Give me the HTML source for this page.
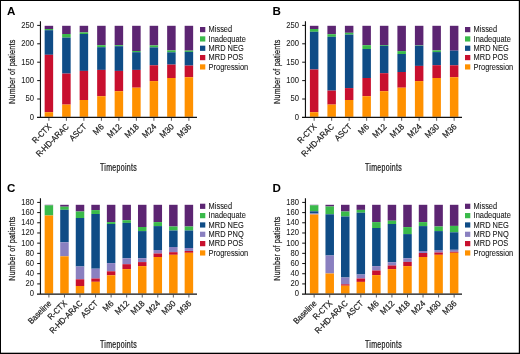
<!DOCTYPE html>
<html><head><meta charset="utf-8"><style>
html,body{margin:0;padding:0;background:#fff;}
body{width:520px;height:354px;overflow:hidden;}
svg{display:block;font-family:"Liberation Sans", sans-serif;will-change:transform;}
</style></head><body>
<svg width="520" height="354" viewBox="0 0 520 354">
<rect x="0" y="0" width="520" height="354" fill="#fff"/>
<rect x="44.65" y="25.8" width="8.5" height="3.2" fill="#5C2572"/>
<rect x="44.65" y="29" width="8.5" height="1.2" fill="#3ABA4A"/>
<rect x="44.65" y="30.2" width="8.5" height="24.6" fill="#0F4C86"/>
<rect x="44.65" y="54.8" width="8.5" height="57.4" fill="#C8102E"/>
<rect x="44.65" y="112.2" width="8.5" height="4.6" fill="#FF9100"/>
<rect x="62.15" y="25.8" width="8.5" height="8.2" fill="#5C2572"/>
<rect x="62.15" y="34" width="8.5" height="3.6" fill="#3ABA4A"/>
<rect x="62.15" y="37.6" width="8.5" height="36" fill="#0F4C86"/>
<rect x="62.15" y="73.6" width="8.5" height="31" fill="#C8102E"/>
<rect x="62.15" y="104.6" width="8.5" height="12.2" fill="#FF9100"/>
<rect x="79.65" y="25.8" width="8.5" height="6.6" fill="#5C2572"/>
<rect x="79.65" y="32.4" width="8.5" height="1.6" fill="#3ABA4A"/>
<rect x="79.65" y="34" width="8.5" height="36.9" fill="#0F4C86"/>
<rect x="79.65" y="70.9" width="8.5" height="29.1" fill="#C8102E"/>
<rect x="79.65" y="100" width="8.5" height="16.8" fill="#FF9100"/>
<rect x="97.15" y="25.8" width="8.5" height="19.4" fill="#5C2572"/>
<rect x="97.15" y="45.2" width="8.5" height="2" fill="#3ABA4A"/>
<rect x="97.15" y="47.2" width="8.5" height="22.7" fill="#0F4C86"/>
<rect x="97.15" y="69.9" width="8.5" height="26.3" fill="#C8102E"/>
<rect x="97.15" y="96.2" width="8.5" height="20.6" fill="#FF9100"/>
<rect x="114.65" y="25.8" width="8.5" height="19.4" fill="#5C2572"/>
<rect x="114.65" y="45.2" width="8.5" height="1" fill="#3ABA4A"/>
<rect x="114.65" y="46.2" width="8.5" height="24.7" fill="#0F4C86"/>
<rect x="114.65" y="70.9" width="8.5" height="20.3" fill="#C8102E"/>
<rect x="114.65" y="91.2" width="8.5" height="25.6" fill="#FF9100"/>
<rect x="132.15" y="25.8" width="8.5" height="25.2" fill="#5C2572"/>
<rect x="132.15" y="51" width="8.5" height="1.2" fill="#3ABA4A"/>
<rect x="132.15" y="52.2" width="8.5" height="17.7" fill="#0F4C86"/>
<rect x="132.15" y="69.9" width="8.5" height="17.8" fill="#C8102E"/>
<rect x="132.15" y="87.7" width="8.5" height="29.1" fill="#FF9100"/>
<rect x="149.65" y="25.8" width="8.5" height="19.6" fill="#5C2572"/>
<rect x="149.65" y="45.4" width="8.5" height="2" fill="#3ABA4A"/>
<rect x="149.65" y="47.4" width="8.5" height="17.9" fill="#0F4C86"/>
<rect x="149.65" y="65.3" width="8.5" height="15.8" fill="#C8102E"/>
<rect x="149.65" y="81.1" width="8.5" height="35.7" fill="#FF9100"/>
<rect x="167.15" y="25.8" width="8.5" height="24.6" fill="#5C2572"/>
<rect x="167.15" y="50.4" width="8.5" height="1.9" fill="#3ABA4A"/>
<rect x="167.15" y="52.3" width="8.5" height="12.3" fill="#0F4C86"/>
<rect x="167.15" y="64.6" width="8.5" height="13.4" fill="#C8102E"/>
<rect x="167.15" y="78" width="8.5" height="38.8" fill="#FF9100"/>
<rect x="184.65" y="25.8" width="8.5" height="24.8" fill="#5C2572"/>
<rect x="184.65" y="50.6" width="8.5" height="1.3" fill="#3ABA4A"/>
<rect x="184.65" y="51.9" width="8.5" height="13.7" fill="#0F4C86"/>
<rect x="184.65" y="65.6" width="8.5" height="11.6" fill="#C8102E"/>
<rect x="184.65" y="77.2" width="8.5" height="39.6" fill="#FF9100"/>
<path d="M40.45 21.25V118M37 117.4H197" stroke="#111" stroke-width="1.15" fill="none"/>
<text transform="translate(34 119.75) scale(0.85 1)" font-size="9" text-anchor="end" fill="#1a1a1a" stroke="#1a1a1a" stroke-width="0.06">0</text>
<path d="M37.2 99H40.45" stroke="#111" stroke-width="1"/>
<text transform="translate(34 101.35) scale(0.85 1)" font-size="9" text-anchor="end" fill="#1a1a1a" stroke="#1a1a1a" stroke-width="0.06">50</text>
<path d="M37.2 80.6H40.45" stroke="#111" stroke-width="1"/>
<text transform="translate(34 82.95) scale(0.85 1)" font-size="9" text-anchor="end" fill="#1a1a1a" stroke="#1a1a1a" stroke-width="0.06">100</text>
<path d="M37.2 62.2H40.45" stroke="#111" stroke-width="1"/>
<text transform="translate(34 64.55) scale(0.85 1)" font-size="9" text-anchor="end" fill="#1a1a1a" stroke="#1a1a1a" stroke-width="0.06">150</text>
<path d="M37.2 43.8H40.45" stroke="#111" stroke-width="1"/>
<text transform="translate(34 46.15) scale(0.85 1)" font-size="9" text-anchor="end" fill="#1a1a1a" stroke="#1a1a1a" stroke-width="0.06">200</text>
<path d="M37.2 25.4H40.45" stroke="#111" stroke-width="1"/>
<text transform="translate(34 27.75) scale(0.85 1)" font-size="9" text-anchor="end" fill="#1a1a1a" stroke="#1a1a1a" stroke-width="0.06">250</text>
<path d="M48.9 118V120.8" stroke="#333" stroke-width="0.8"/>
<text transform="translate(51.9 127.3) rotate(-45) scale(0.88 1)" font-size="8.6" text-anchor="end" fill="#1a1a1a" stroke="#1a1a1a" stroke-width="0.2">R-CTX</text>
<path d="M66.4 118V120.8" stroke="#333" stroke-width="0.8"/>
<text transform="translate(69.4 127.3) rotate(-45) scale(0.88 1)" font-size="8.6" text-anchor="end" fill="#1a1a1a" stroke="#1a1a1a" stroke-width="0.2">R-HD-ARAC</text>
<path d="M83.9 118V120.8" stroke="#333" stroke-width="0.8"/>
<text transform="translate(86.9 127.3) rotate(-45) scale(0.88 1)" font-size="8.6" text-anchor="end" fill="#1a1a1a" stroke="#1a1a1a" stroke-width="0.2">ASCT</text>
<path d="M101.4 118V120.8" stroke="#333" stroke-width="0.8"/>
<text transform="translate(104.4 127.3) rotate(-45) scale(0.9592 1)" font-size="8.6" text-anchor="end" fill="#1a1a1a" stroke="#1a1a1a" stroke-width="0.2">M6</text>
<path d="M118.9 118V120.8" stroke="#333" stroke-width="0.8"/>
<text transform="translate(121.9 127.3) rotate(-45) scale(0.9592 1)" font-size="8.6" text-anchor="end" fill="#1a1a1a" stroke="#1a1a1a" stroke-width="0.2">M12</text>
<path d="M136.4 118V120.8" stroke="#333" stroke-width="0.8"/>
<text transform="translate(139.4 127.3) rotate(-45) scale(0.9592 1)" font-size="8.6" text-anchor="end" fill="#1a1a1a" stroke="#1a1a1a" stroke-width="0.2">M18</text>
<path d="M153.9 118V120.8" stroke="#333" stroke-width="0.8"/>
<text transform="translate(156.9 127.3) rotate(-45) scale(0.9592 1)" font-size="8.6" text-anchor="end" fill="#1a1a1a" stroke="#1a1a1a" stroke-width="0.2">M24</text>
<path d="M171.4 118V120.8" stroke="#333" stroke-width="0.8"/>
<text transform="translate(174.4 127.3) rotate(-45) scale(0.9592 1)" font-size="8.6" text-anchor="end" fill="#1a1a1a" stroke="#1a1a1a" stroke-width="0.2">M30</text>
<path d="M188.9 118V120.8" stroke="#333" stroke-width="0.8"/>
<text transform="translate(191.9 127.3) rotate(-45) scale(0.9592 1)" font-size="8.6" text-anchor="end" fill="#1a1a1a" stroke="#1a1a1a" stroke-width="0.2">M36</text>
<text transform="translate(14.7 71.7) rotate(-90) scale(0.745 1)" font-size="9.6" text-anchor="middle" fill="#1a1a1a" stroke="#1a1a1a" stroke-width="0.25" letter-spacing="0.3">Number of patients</text>
<text transform="translate(118.5 170.8) scale(0.7 1)" font-size="10.0" text-anchor="middle" fill="#1a1a1a" stroke="#1a1a1a" stroke-width="0.25" letter-spacing="0.45">Timepoints</text>
<text x="6.9" y="15" font-size="11.6" font-weight="bold" fill="#000">A</text>
<rect x="200" y="27" width="5.3" height="5.2" fill="#5C2572"/>
<text transform="translate(208.6 32.2) scale(0.885 1)" font-size="8.4" fill="#1a1a1a" stroke="#1a1a1a" stroke-width="0.1">Missed</text>
<rect x="200" y="36.33" width="5.3" height="5.2" fill="#3ABA4A"/>
<text transform="translate(208.6 41.53) scale(0.885 1)" font-size="8.4" fill="#1a1a1a" stroke="#1a1a1a" stroke-width="0.1">Inadequate</text>
<rect x="200" y="45.66" width="5.3" height="5.2" fill="#0F4C86"/>
<text transform="translate(208.6 50.86) scale(0.885 1)" font-size="8.4" fill="#1a1a1a" stroke="#1a1a1a" stroke-width="0.1">MRD NEG</text>
<rect x="200" y="54.99" width="5.3" height="5.2" fill="#C8102E"/>
<text transform="translate(208.6 60.19) scale(0.885 1)" font-size="8.4" fill="#1a1a1a" stroke="#1a1a1a" stroke-width="0.1">MRD POS</text>
<rect x="200" y="64.32" width="5.3" height="5.2" fill="#FF9100"/>
<text transform="translate(208.6 69.52) scale(0.885 1)" font-size="8.4" fill="#1a1a1a" stroke="#1a1a1a" stroke-width="0.1">Progression</text>
<rect x="309.9" y="25.8" width="8.5" height="3.2" fill="#5C2572"/>
<rect x="309.9" y="29" width="8.5" height="2.8" fill="#3ABA4A"/>
<rect x="309.9" y="31.8" width="8.5" height="37.7" fill="#0F4C86"/>
<rect x="309.9" y="69.5" width="8.5" height="42.7" fill="#C8102E"/>
<rect x="309.9" y="112.2" width="8.5" height="4.6" fill="#FF9100"/>
<rect x="327.4" y="25.8" width="8.5" height="8.4" fill="#5C2572"/>
<rect x="327.4" y="34.2" width="8.5" height="2.6" fill="#3ABA4A"/>
<rect x="327.4" y="36.8" width="8.5" height="53.8" fill="#0F4C86"/>
<rect x="327.4" y="90.6" width="8.5" height="14" fill="#C8102E"/>
<rect x="327.4" y="104.6" width="8.5" height="12.2" fill="#FF9100"/>
<rect x="344.9" y="25.8" width="8.5" height="7" fill="#5C2572"/>
<rect x="344.9" y="32.8" width="8.5" height="1.8" fill="#3ABA4A"/>
<rect x="344.9" y="34.6" width="8.5" height="53.5" fill="#0F4C86"/>
<rect x="344.9" y="88.1" width="8.5" height="11.9" fill="#C8102E"/>
<rect x="344.9" y="100" width="8.5" height="16.8" fill="#FF9100"/>
<rect x="362.4" y="25.8" width="8.5" height="19.4" fill="#5C2572"/>
<rect x="362.4" y="45.2" width="8.5" height="3.8" fill="#3ABA4A"/>
<rect x="362.4" y="49" width="8.5" height="29" fill="#0F4C86"/>
<rect x="362.4" y="78" width="8.5" height="18.2" fill="#C8102E"/>
<rect x="362.4" y="96.2" width="8.5" height="20.6" fill="#FF9100"/>
<rect x="379.9" y="25.8" width="8.5" height="19.2" fill="#5C2572"/>
<rect x="379.9" y="45" width="8.5" height="0.8" fill="#3ABA4A"/>
<rect x="379.9" y="45.8" width="8.5" height="27.4" fill="#0F4C86"/>
<rect x="379.9" y="73.2" width="8.5" height="18" fill="#C8102E"/>
<rect x="379.9" y="91.2" width="8.5" height="25.6" fill="#FF9100"/>
<rect x="397.4" y="25.8" width="8.5" height="25.3" fill="#5C2572"/>
<rect x="397.4" y="51.1" width="8.5" height="2.9" fill="#3ABA4A"/>
<rect x="397.4" y="54" width="8.5" height="18" fill="#0F4C86"/>
<rect x="397.4" y="72" width="8.5" height="15.7" fill="#C8102E"/>
<rect x="397.4" y="87.7" width="8.5" height="29.1" fill="#FF9100"/>
<rect x="414.9" y="25.8" width="8.5" height="19.6" fill="#5C2572"/>
<rect x="414.9" y="45.4" width="8.5" height="0.4" fill="#3ABA4A"/>
<rect x="414.9" y="45.8" width="8.5" height="20.1" fill="#0F4C86"/>
<rect x="414.9" y="65.9" width="8.5" height="15.2" fill="#C8102E"/>
<rect x="414.9" y="81.1" width="8.5" height="35.7" fill="#FF9100"/>
<rect x="432.4" y="25.8" width="8.5" height="24.6" fill="#5C2572"/>
<rect x="432.4" y="50.4" width="8.5" height="1.7" fill="#3ABA4A"/>
<rect x="432.4" y="52.1" width="8.5" height="13.1" fill="#0F4C86"/>
<rect x="432.4" y="65.2" width="8.5" height="12.8" fill="#C8102E"/>
<rect x="432.4" y="78" width="8.5" height="38.8" fill="#FF9100"/>
<rect x="449.9" y="25.8" width="8.5" height="24.9" fill="#5C2572"/>
<rect x="449.9" y="50.7" width="8.5" height="14.6" fill="#0F4C86"/>
<rect x="449.9" y="65.3" width="8.5" height="11.9" fill="#C8102E"/>
<rect x="449.9" y="77.2" width="8.5" height="39.6" fill="#FF9100"/>
<path d="M305.45 21.25V118M302 117.4H462" stroke="#111" stroke-width="1.15" fill="none"/>
<text transform="translate(299 119.75) scale(0.85 1)" font-size="9" text-anchor="end" fill="#1a1a1a" stroke="#1a1a1a" stroke-width="0.06">0</text>
<path d="M302.2 99H305.45" stroke="#111" stroke-width="1"/>
<text transform="translate(299 101.35) scale(0.85 1)" font-size="9" text-anchor="end" fill="#1a1a1a" stroke="#1a1a1a" stroke-width="0.06">50</text>
<path d="M302.2 80.6H305.45" stroke="#111" stroke-width="1"/>
<text transform="translate(299 82.95) scale(0.85 1)" font-size="9" text-anchor="end" fill="#1a1a1a" stroke="#1a1a1a" stroke-width="0.06">100</text>
<path d="M302.2 62.2H305.45" stroke="#111" stroke-width="1"/>
<text transform="translate(299 64.55) scale(0.85 1)" font-size="9" text-anchor="end" fill="#1a1a1a" stroke="#1a1a1a" stroke-width="0.06">150</text>
<path d="M302.2 43.8H305.45" stroke="#111" stroke-width="1"/>
<text transform="translate(299 46.15) scale(0.85 1)" font-size="9" text-anchor="end" fill="#1a1a1a" stroke="#1a1a1a" stroke-width="0.06">200</text>
<path d="M302.2 25.4H305.45" stroke="#111" stroke-width="1"/>
<text transform="translate(299 27.75) scale(0.85 1)" font-size="9" text-anchor="end" fill="#1a1a1a" stroke="#1a1a1a" stroke-width="0.06">250</text>
<path d="M314.15 118V120.8" stroke="#333" stroke-width="0.8"/>
<text transform="translate(317.15 127.3) rotate(-45) scale(0.88 1)" font-size="8.6" text-anchor="end" fill="#1a1a1a" stroke="#1a1a1a" stroke-width="0.2">R-CTX</text>
<path d="M331.65 118V120.8" stroke="#333" stroke-width="0.8"/>
<text transform="translate(334.65 127.3) rotate(-45) scale(0.88 1)" font-size="8.6" text-anchor="end" fill="#1a1a1a" stroke="#1a1a1a" stroke-width="0.2">R-HD-ARAC</text>
<path d="M349.15 118V120.8" stroke="#333" stroke-width="0.8"/>
<text transform="translate(352.15 127.3) rotate(-45) scale(0.88 1)" font-size="8.6" text-anchor="end" fill="#1a1a1a" stroke="#1a1a1a" stroke-width="0.2">ASCT</text>
<path d="M366.65 118V120.8" stroke="#333" stroke-width="0.8"/>
<text transform="translate(369.65 127.3) rotate(-45) scale(0.9592 1)" font-size="8.6" text-anchor="end" fill="#1a1a1a" stroke="#1a1a1a" stroke-width="0.2">M6</text>
<path d="M384.15 118V120.8" stroke="#333" stroke-width="0.8"/>
<text transform="translate(387.15 127.3) rotate(-45) scale(0.9592 1)" font-size="8.6" text-anchor="end" fill="#1a1a1a" stroke="#1a1a1a" stroke-width="0.2">M12</text>
<path d="M401.65 118V120.8" stroke="#333" stroke-width="0.8"/>
<text transform="translate(404.65 127.3) rotate(-45) scale(0.9592 1)" font-size="8.6" text-anchor="end" fill="#1a1a1a" stroke="#1a1a1a" stroke-width="0.2">M18</text>
<path d="M419.15 118V120.8" stroke="#333" stroke-width="0.8"/>
<text transform="translate(422.15 127.3) rotate(-45) scale(0.9592 1)" font-size="8.6" text-anchor="end" fill="#1a1a1a" stroke="#1a1a1a" stroke-width="0.2">M24</text>
<path d="M436.65 118V120.8" stroke="#333" stroke-width="0.8"/>
<text transform="translate(439.65 127.3) rotate(-45) scale(0.9592 1)" font-size="8.6" text-anchor="end" fill="#1a1a1a" stroke="#1a1a1a" stroke-width="0.2">M30</text>
<path d="M454.15 118V120.8" stroke="#333" stroke-width="0.8"/>
<text transform="translate(457.15 127.3) rotate(-45) scale(0.9592 1)" font-size="8.6" text-anchor="end" fill="#1a1a1a" stroke="#1a1a1a" stroke-width="0.2">M36</text>
<text transform="translate(279.7 71.7) rotate(-90) scale(0.745 1)" font-size="9.6" text-anchor="middle" fill="#1a1a1a" stroke="#1a1a1a" stroke-width="0.25" letter-spacing="0.3">Number of patients</text>
<text transform="translate(383.5 170.8) scale(0.7 1)" font-size="10.0" text-anchor="middle" fill="#1a1a1a" stroke="#1a1a1a" stroke-width="0.25" letter-spacing="0.45">Timepoints</text>
<text x="272.43" y="15" font-size="11.6" font-weight="bold" fill="#000">B</text>
<rect x="465" y="27" width="5.3" height="5.2" fill="#5C2572"/>
<text transform="translate(473.6 32.2) scale(0.885 1)" font-size="8.4" fill="#1a1a1a" stroke="#1a1a1a" stroke-width="0.1">Missed</text>
<rect x="465" y="36.33" width="5.3" height="5.2" fill="#3ABA4A"/>
<text transform="translate(473.6 41.53) scale(0.885 1)" font-size="8.4" fill="#1a1a1a" stroke="#1a1a1a" stroke-width="0.1">Inadequate</text>
<rect x="465" y="45.66" width="5.3" height="5.2" fill="#0F4C86"/>
<text transform="translate(473.6 50.86) scale(0.885 1)" font-size="8.4" fill="#1a1a1a" stroke="#1a1a1a" stroke-width="0.1">MRD NEG</text>
<rect x="465" y="54.99" width="5.3" height="5.2" fill="#C8102E"/>
<text transform="translate(473.6 60.19) scale(0.885 1)" font-size="8.4" fill="#1a1a1a" stroke="#1a1a1a" stroke-width="0.1">MRD POS</text>
<rect x="465" y="64.32" width="5.3" height="5.2" fill="#FF9100"/>
<text transform="translate(473.6 69.52) scale(0.885 1)" font-size="8.4" fill="#1a1a1a" stroke="#1a1a1a" stroke-width="0.1">Progression</text>
<rect x="44.65" y="204.8" width="8.5" height="0.5" fill="#5C2572"/>
<rect x="44.65" y="205.3" width="8.5" height="10.2" fill="#3ABA4A"/>
<rect x="44.65" y="215.5" width="8.5" height="78" fill="#FF9100"/>
<rect x="60.21" y="204.8" width="8.5" height="1.9" fill="#5C2572"/>
<rect x="60.21" y="206.7" width="8.5" height="3.1" fill="#3ABA4A"/>
<rect x="60.21" y="209.8" width="8.5" height="32.5" fill="#0F4C86"/>
<rect x="60.21" y="242.3" width="8.5" height="14" fill="#8A80C0"/>
<rect x="60.21" y="256.3" width="8.5" height="37.2" fill="#FF9100"/>
<rect x="75.76" y="204.8" width="8.5" height="6.7" fill="#5C2572"/>
<rect x="75.76" y="211.5" width="8.5" height="6.5" fill="#3ABA4A"/>
<rect x="75.76" y="218" width="8.5" height="48.5" fill="#0F4C86"/>
<rect x="75.76" y="266.5" width="8.5" height="12.8" fill="#8A80C0"/>
<rect x="75.76" y="279.3" width="8.5" height="6.7" fill="#C8102E"/>
<rect x="75.76" y="286" width="8.5" height="7.5" fill="#FF9100"/>
<rect x="91.32" y="204.8" width="8.5" height="5.3" fill="#5C2572"/>
<rect x="91.32" y="210.1" width="8.5" height="3.9" fill="#3ABA4A"/>
<rect x="91.32" y="214" width="8.5" height="54.7" fill="#0F4C86"/>
<rect x="91.32" y="268.7" width="8.5" height="9.8" fill="#8A80C0"/>
<rect x="91.32" y="278.5" width="8.5" height="3.3" fill="#C8102E"/>
<rect x="91.32" y="281.8" width="8.5" height="11.7" fill="#FF9100"/>
<rect x="106.87" y="204.8" width="8.5" height="17.3" fill="#5C2572"/>
<rect x="106.87" y="222.1" width="8.5" height="1.9" fill="#3ABA4A"/>
<rect x="106.87" y="224" width="8.5" height="39.1" fill="#0F4C86"/>
<rect x="106.87" y="263.1" width="8.5" height="8.2" fill="#8A80C0"/>
<rect x="106.87" y="271.3" width="8.5" height="4" fill="#C8102E"/>
<rect x="106.87" y="275.3" width="8.5" height="18.2" fill="#FF9100"/>
<rect x="122.43" y="204.8" width="8.5" height="15.4" fill="#5C2572"/>
<rect x="122.43" y="220.2" width="8.5" height="2.7" fill="#3ABA4A"/>
<rect x="122.43" y="222.9" width="8.5" height="35.4" fill="#0F4C86"/>
<rect x="122.43" y="258.3" width="8.5" height="5.9" fill="#8A80C0"/>
<rect x="122.43" y="264.2" width="8.5" height="4.9" fill="#C8102E"/>
<rect x="122.43" y="269.1" width="8.5" height="24.4" fill="#FF9100"/>
<rect x="137.99" y="204.8" width="8.5" height="22.2" fill="#5C2572"/>
<rect x="137.99" y="227" width="8.5" height="4.1" fill="#3ABA4A"/>
<rect x="137.99" y="231.1" width="8.5" height="27.1" fill="#0F4C86"/>
<rect x="137.99" y="258.2" width="8.5" height="3.9" fill="#8A80C0"/>
<rect x="137.99" y="262.1" width="8.5" height="4" fill="#C8102E"/>
<rect x="137.99" y="266.1" width="8.5" height="27.4" fill="#FF9100"/>
<rect x="153.54" y="204.8" width="8.5" height="17.3" fill="#5C2572"/>
<rect x="153.54" y="222.1" width="8.5" height="4" fill="#3ABA4A"/>
<rect x="153.54" y="226.1" width="8.5" height="23.9" fill="#0F4C86"/>
<rect x="153.54" y="250" width="8.5" height="3.5" fill="#8A80C0"/>
<rect x="153.54" y="253.5" width="8.5" height="3.5" fill="#C8102E"/>
<rect x="153.54" y="257" width="8.5" height="36.5" fill="#FF9100"/>
<rect x="169.1" y="204.8" width="8.5" height="21.7" fill="#5C2572"/>
<rect x="169.1" y="226.5" width="8.5" height="4" fill="#3ABA4A"/>
<rect x="169.1" y="230.5" width="8.5" height="16.5" fill="#0F4C86"/>
<rect x="169.1" y="247" width="8.5" height="5.2" fill="#8A80C0"/>
<rect x="169.1" y="252.2" width="8.5" height="2.6" fill="#C8102E"/>
<rect x="169.1" y="254.8" width="8.5" height="38.7" fill="#FF9100"/>
<rect x="184.65" y="204.8" width="8.5" height="21.7" fill="#5C2572"/>
<rect x="184.65" y="226.5" width="8.5" height="4" fill="#3ABA4A"/>
<rect x="184.65" y="230.5" width="8.5" height="17.5" fill="#0F4C86"/>
<rect x="184.65" y="248" width="8.5" height="3" fill="#8A80C0"/>
<rect x="184.65" y="251" width="8.5" height="1.8" fill="#C8102E"/>
<rect x="184.65" y="252.8" width="8.5" height="40.7" fill="#FF9100"/>
<path d="M40.45 198.25V294.7M37 294.1H197" stroke="#111" stroke-width="1.15" fill="none"/>
<text transform="translate(34 296.45) scale(0.85 1)" font-size="9" text-anchor="end" fill="#1a1a1a" stroke="#1a1a1a" stroke-width="0.06">0</text>
<path d="M37.2 283.91H40.45" stroke="#111" stroke-width="1"/>
<text transform="translate(34 286.26) scale(0.85 1)" font-size="9" text-anchor="end" fill="#1a1a1a" stroke="#1a1a1a" stroke-width="0.06">20</text>
<path d="M37.2 273.72H40.45" stroke="#111" stroke-width="1"/>
<text transform="translate(34 276.07) scale(0.85 1)" font-size="9" text-anchor="end" fill="#1a1a1a" stroke="#1a1a1a" stroke-width="0.06">40</text>
<path d="M37.2 263.54H40.45" stroke="#111" stroke-width="1"/>
<text transform="translate(34 265.89) scale(0.85 1)" font-size="9" text-anchor="end" fill="#1a1a1a" stroke="#1a1a1a" stroke-width="0.06">60</text>
<path d="M37.2 253.35H40.45" stroke="#111" stroke-width="1"/>
<text transform="translate(34 255.7) scale(0.85 1)" font-size="9" text-anchor="end" fill="#1a1a1a" stroke="#1a1a1a" stroke-width="0.06">80</text>
<path d="M37.2 243.16H40.45" stroke="#111" stroke-width="1"/>
<text transform="translate(34 245.51) scale(0.85 1)" font-size="9" text-anchor="end" fill="#1a1a1a" stroke="#1a1a1a" stroke-width="0.06">100</text>
<path d="M37.2 232.97H40.45" stroke="#111" stroke-width="1"/>
<text transform="translate(34 235.32) scale(0.85 1)" font-size="9" text-anchor="end" fill="#1a1a1a" stroke="#1a1a1a" stroke-width="0.06">120</text>
<path d="M37.2 222.78H40.45" stroke="#111" stroke-width="1"/>
<text transform="translate(34 225.13) scale(0.85 1)" font-size="9" text-anchor="end" fill="#1a1a1a" stroke="#1a1a1a" stroke-width="0.06">140</text>
<path d="M37.2 212.6H40.45" stroke="#111" stroke-width="1"/>
<text transform="translate(34 214.95) scale(0.85 1)" font-size="9" text-anchor="end" fill="#1a1a1a" stroke="#1a1a1a" stroke-width="0.06">160</text>
<path d="M37.2 202.41H40.45" stroke="#111" stroke-width="1"/>
<text transform="translate(34 204.76) scale(0.85 1)" font-size="9" text-anchor="end" fill="#1a1a1a" stroke="#1a1a1a" stroke-width="0.06">180</text>
<path d="M48.9 294.7V297.5" stroke="#333" stroke-width="0.8"/>
<text transform="translate(51.9 304) rotate(-45) scale(0.88 1)" font-size="8.6" text-anchor="end" fill="#1a1a1a" stroke="#1a1a1a" stroke-width="0.2">Baseline</text>
<path d="M64.46 294.7V297.5" stroke="#333" stroke-width="0.8"/>
<text transform="translate(67.46 304) rotate(-45) scale(0.88 1)" font-size="8.6" text-anchor="end" fill="#1a1a1a" stroke="#1a1a1a" stroke-width="0.2">R-CTX</text>
<path d="M80.01 294.7V297.5" stroke="#333" stroke-width="0.8"/>
<text transform="translate(83.01 304) rotate(-45) scale(0.88 1)" font-size="8.6" text-anchor="end" fill="#1a1a1a" stroke="#1a1a1a" stroke-width="0.2">R-HD-ARAC</text>
<path d="M95.57 294.7V297.5" stroke="#333" stroke-width="0.8"/>
<text transform="translate(98.57 304) rotate(-45) scale(0.88 1)" font-size="8.6" text-anchor="end" fill="#1a1a1a" stroke="#1a1a1a" stroke-width="0.2">ASCT</text>
<path d="M111.12 294.7V297.5" stroke="#333" stroke-width="0.8"/>
<text transform="translate(114.12 304) rotate(-45) scale(0.9592 1)" font-size="8.6" text-anchor="end" fill="#1a1a1a" stroke="#1a1a1a" stroke-width="0.2">M6</text>
<path d="M126.68 294.7V297.5" stroke="#333" stroke-width="0.8"/>
<text transform="translate(129.68 304) rotate(-45) scale(0.9592 1)" font-size="8.6" text-anchor="end" fill="#1a1a1a" stroke="#1a1a1a" stroke-width="0.2">M12</text>
<path d="M142.24 294.7V297.5" stroke="#333" stroke-width="0.8"/>
<text transform="translate(145.24 304) rotate(-45) scale(0.9592 1)" font-size="8.6" text-anchor="end" fill="#1a1a1a" stroke="#1a1a1a" stroke-width="0.2">M18</text>
<path d="M157.79 294.7V297.5" stroke="#333" stroke-width="0.8"/>
<text transform="translate(160.79 304) rotate(-45) scale(0.9592 1)" font-size="8.6" text-anchor="end" fill="#1a1a1a" stroke="#1a1a1a" stroke-width="0.2">M24</text>
<path d="M173.35 294.7V297.5" stroke="#333" stroke-width="0.8"/>
<text transform="translate(176.35 304) rotate(-45) scale(0.9592 1)" font-size="8.6" text-anchor="end" fill="#1a1a1a" stroke="#1a1a1a" stroke-width="0.2">M30</text>
<path d="M188.9 294.7V297.5" stroke="#333" stroke-width="0.8"/>
<text transform="translate(191.9 304) rotate(-45) scale(0.9592 1)" font-size="8.6" text-anchor="end" fill="#1a1a1a" stroke="#1a1a1a" stroke-width="0.2">M36</text>
<text transform="translate(14.7 248.55) rotate(-90) scale(0.745 1)" font-size="9.6" text-anchor="middle" fill="#1a1a1a" stroke="#1a1a1a" stroke-width="0.25" letter-spacing="0.3">Number of patients</text>
<text transform="translate(118.5 347.5) scale(0.7 1)" font-size="10.0" text-anchor="middle" fill="#1a1a1a" stroke="#1a1a1a" stroke-width="0.25" letter-spacing="0.45">Timepoints</text>
<text x="6.9" y="191.7" font-size="11.6" font-weight="bold" fill="#000">C</text>
<rect x="200" y="203.7" width="5.3" height="5.2" fill="#5C2572"/>
<text transform="translate(208.6 208.9) scale(0.885 1)" font-size="8.4" fill="#1a1a1a" stroke="#1a1a1a" stroke-width="0.1">Missed</text>
<rect x="200" y="213.03" width="5.3" height="5.2" fill="#3ABA4A"/>
<text transform="translate(208.6 218.23) scale(0.885 1)" font-size="8.4" fill="#1a1a1a" stroke="#1a1a1a" stroke-width="0.1">Inadequate</text>
<rect x="200" y="222.36" width="5.3" height="5.2" fill="#0F4C86"/>
<text transform="translate(208.6 227.56) scale(0.885 1)" font-size="8.4" fill="#1a1a1a" stroke="#1a1a1a" stroke-width="0.1">MRD NEG</text>
<rect x="200" y="231.69" width="5.3" height="5.2" fill="#8A80C0"/>
<text transform="translate(208.6 236.89) scale(0.885 1)" font-size="8.4" fill="#1a1a1a" stroke="#1a1a1a" stroke-width="0.1">MRD PNQ</text>
<rect x="200" y="241.02" width="5.3" height="5.2" fill="#C8102E"/>
<text transform="translate(208.6 246.22) scale(0.885 1)" font-size="8.4" fill="#1a1a1a" stroke="#1a1a1a" stroke-width="0.1">MRD POS</text>
<rect x="200" y="250.35" width="5.3" height="5.2" fill="#FF9100"/>
<text transform="translate(208.6 255.55) scale(0.885 1)" font-size="8.4" fill="#1a1a1a" stroke="#1a1a1a" stroke-width="0.1">Progression</text>
<rect x="309.9" y="204.8" width="8.5" height="0.5" fill="#5C2572"/>
<rect x="309.9" y="205.3" width="8.5" height="6" fill="#3ABA4A"/>
<rect x="309.9" y="211.3" width="8.5" height="2.2" fill="#0F4C86"/>
<rect x="309.9" y="213.5" width="8.5" height="1" fill="#8A80C0"/>
<rect x="309.9" y="214.5" width="8.5" height="79" fill="#FF9100"/>
<rect x="325.46" y="204.8" width="8.5" height="1.7" fill="#5C2572"/>
<rect x="325.46" y="206.5" width="8.5" height="7.8" fill="#3ABA4A"/>
<rect x="325.46" y="214.3" width="8.5" height="41.2" fill="#0F4C86"/>
<rect x="325.46" y="255.5" width="8.5" height="18" fill="#8A80C0"/>
<rect x="325.46" y="273.5" width="8.5" height="20" fill="#FF9100"/>
<rect x="341.01" y="204.8" width="8.5" height="6.7" fill="#5C2572"/>
<rect x="341.01" y="211.5" width="8.5" height="5" fill="#3ABA4A"/>
<rect x="341.01" y="216.5" width="8.5" height="61" fill="#0F4C86"/>
<rect x="341.01" y="277.5" width="8.5" height="6.8" fill="#8A80C0"/>
<rect x="341.01" y="284.3" width="8.5" height="1.4" fill="#C8102E"/>
<rect x="341.01" y="285.7" width="8.5" height="7.8" fill="#FF9100"/>
<rect x="356.57" y="204.8" width="8.5" height="5.1" fill="#5C2572"/>
<rect x="356.57" y="209.9" width="8.5" height="2.8" fill="#3ABA4A"/>
<rect x="356.57" y="212.7" width="8.5" height="61.8" fill="#0F4C86"/>
<rect x="356.57" y="274.5" width="8.5" height="4" fill="#8A80C0"/>
<rect x="356.57" y="278.5" width="8.5" height="3.4" fill="#C8102E"/>
<rect x="356.57" y="281.9" width="8.5" height="11.6" fill="#FF9100"/>
<rect x="372.12" y="204.8" width="8.5" height="17.3" fill="#5C2572"/>
<rect x="372.12" y="222.1" width="8.5" height="5.9" fill="#3ABA4A"/>
<rect x="372.12" y="228" width="8.5" height="38.1" fill="#0F4C86"/>
<rect x="372.12" y="266.1" width="8.5" height="4.4" fill="#8A80C0"/>
<rect x="372.12" y="270.5" width="8.5" height="4.6" fill="#C8102E"/>
<rect x="372.12" y="275.1" width="8.5" height="18.4" fill="#FF9100"/>
<rect x="387.68" y="204.8" width="8.5" height="15.9" fill="#5C2572"/>
<rect x="387.68" y="220.7" width="8.5" height="3.3" fill="#3ABA4A"/>
<rect x="387.68" y="224" width="8.5" height="38.2" fill="#0F4C86"/>
<rect x="387.68" y="262.2" width="8.5" height="3.3" fill="#8A80C0"/>
<rect x="387.68" y="265.5" width="8.5" height="3.6" fill="#C8102E"/>
<rect x="387.68" y="269.1" width="8.5" height="24.4" fill="#FF9100"/>
<rect x="403.24" y="204.8" width="8.5" height="22.3" fill="#5C2572"/>
<rect x="403.24" y="227.1" width="8.5" height="7" fill="#3ABA4A"/>
<rect x="403.24" y="234.1" width="8.5" height="24.2" fill="#0F4C86"/>
<rect x="403.24" y="258.3" width="8.5" height="3.6" fill="#8A80C0"/>
<rect x="403.24" y="261.9" width="8.5" height="4.2" fill="#C8102E"/>
<rect x="403.24" y="266.1" width="8.5" height="27.4" fill="#FF9100"/>
<rect x="418.79" y="204.8" width="8.5" height="17.3" fill="#5C2572"/>
<rect x="418.79" y="222.1" width="8.5" height="4" fill="#3ABA4A"/>
<rect x="418.79" y="226.1" width="8.5" height="24.9" fill="#0F4C86"/>
<rect x="418.79" y="251" width="8.5" height="2" fill="#8A80C0"/>
<rect x="418.79" y="253" width="8.5" height="4" fill="#C8102E"/>
<rect x="418.79" y="257" width="8.5" height="36.5" fill="#FF9100"/>
<rect x="434.35" y="204.8" width="8.5" height="21.7" fill="#5C2572"/>
<rect x="434.35" y="226.5" width="8.5" height="4.6" fill="#3ABA4A"/>
<rect x="434.35" y="231.1" width="8.5" height="18.9" fill="#0F4C86"/>
<rect x="434.35" y="250" width="8.5" height="2.5" fill="#8A80C0"/>
<rect x="434.35" y="252.5" width="8.5" height="2.3" fill="#C8102E"/>
<rect x="434.35" y="254.8" width="8.5" height="38.7" fill="#FF9100"/>
<rect x="449.9" y="204.8" width="8.5" height="21.1" fill="#5C2572"/>
<rect x="449.9" y="225.9" width="8.5" height="6.4" fill="#3ABA4A"/>
<rect x="449.9" y="232.3" width="8.5" height="17.5" fill="#0F4C86"/>
<rect x="449.9" y="249.8" width="8.5" height="2" fill="#8A80C0"/>
<rect x="449.9" y="251.8" width="8.5" height="1" fill="#C8102E"/>
<rect x="449.9" y="252.8" width="8.5" height="40.7" fill="#FF9100"/>
<path d="M305.45 198.25V294.7M302 294.1H462" stroke="#111" stroke-width="1.15" fill="none"/>
<text transform="translate(299 296.45) scale(0.85 1)" font-size="9" text-anchor="end" fill="#1a1a1a" stroke="#1a1a1a" stroke-width="0.06">0</text>
<path d="M302.2 283.91H305.45" stroke="#111" stroke-width="1"/>
<text transform="translate(299 286.26) scale(0.85 1)" font-size="9" text-anchor="end" fill="#1a1a1a" stroke="#1a1a1a" stroke-width="0.06">20</text>
<path d="M302.2 273.72H305.45" stroke="#111" stroke-width="1"/>
<text transform="translate(299 276.07) scale(0.85 1)" font-size="9" text-anchor="end" fill="#1a1a1a" stroke="#1a1a1a" stroke-width="0.06">40</text>
<path d="M302.2 263.54H305.45" stroke="#111" stroke-width="1"/>
<text transform="translate(299 265.89) scale(0.85 1)" font-size="9" text-anchor="end" fill="#1a1a1a" stroke="#1a1a1a" stroke-width="0.06">60</text>
<path d="M302.2 253.35H305.45" stroke="#111" stroke-width="1"/>
<text transform="translate(299 255.7) scale(0.85 1)" font-size="9" text-anchor="end" fill="#1a1a1a" stroke="#1a1a1a" stroke-width="0.06">80</text>
<path d="M302.2 243.16H305.45" stroke="#111" stroke-width="1"/>
<text transform="translate(299 245.51) scale(0.85 1)" font-size="9" text-anchor="end" fill="#1a1a1a" stroke="#1a1a1a" stroke-width="0.06">100</text>
<path d="M302.2 232.97H305.45" stroke="#111" stroke-width="1"/>
<text transform="translate(299 235.32) scale(0.85 1)" font-size="9" text-anchor="end" fill="#1a1a1a" stroke="#1a1a1a" stroke-width="0.06">120</text>
<path d="M302.2 222.78H305.45" stroke="#111" stroke-width="1"/>
<text transform="translate(299 225.13) scale(0.85 1)" font-size="9" text-anchor="end" fill="#1a1a1a" stroke="#1a1a1a" stroke-width="0.06">140</text>
<path d="M302.2 212.6H305.45" stroke="#111" stroke-width="1"/>
<text transform="translate(299 214.95) scale(0.85 1)" font-size="9" text-anchor="end" fill="#1a1a1a" stroke="#1a1a1a" stroke-width="0.06">160</text>
<path d="M302.2 202.41H305.45" stroke="#111" stroke-width="1"/>
<text transform="translate(299 204.76) scale(0.85 1)" font-size="9" text-anchor="end" fill="#1a1a1a" stroke="#1a1a1a" stroke-width="0.06">180</text>
<path d="M314.15 294.7V297.5" stroke="#333" stroke-width="0.8"/>
<text transform="translate(317.15 304) rotate(-45) scale(0.88 1)" font-size="8.6" text-anchor="end" fill="#1a1a1a" stroke="#1a1a1a" stroke-width="0.2">Baseline</text>
<path d="M329.71 294.7V297.5" stroke="#333" stroke-width="0.8"/>
<text transform="translate(332.71 304) rotate(-45) scale(0.88 1)" font-size="8.6" text-anchor="end" fill="#1a1a1a" stroke="#1a1a1a" stroke-width="0.2">R-CTX</text>
<path d="M345.26 294.7V297.5" stroke="#333" stroke-width="0.8"/>
<text transform="translate(348.26 304) rotate(-45) scale(0.88 1)" font-size="8.6" text-anchor="end" fill="#1a1a1a" stroke="#1a1a1a" stroke-width="0.2">R-HD-ARAC</text>
<path d="M360.82 294.7V297.5" stroke="#333" stroke-width="0.8"/>
<text transform="translate(363.82 304) rotate(-45) scale(0.88 1)" font-size="8.6" text-anchor="end" fill="#1a1a1a" stroke="#1a1a1a" stroke-width="0.2">ASCT</text>
<path d="M376.37 294.7V297.5" stroke="#333" stroke-width="0.8"/>
<text transform="translate(379.37 304) rotate(-45) scale(0.9592 1)" font-size="8.6" text-anchor="end" fill="#1a1a1a" stroke="#1a1a1a" stroke-width="0.2">M6</text>
<path d="M391.93 294.7V297.5" stroke="#333" stroke-width="0.8"/>
<text transform="translate(394.93 304) rotate(-45) scale(0.9592 1)" font-size="8.6" text-anchor="end" fill="#1a1a1a" stroke="#1a1a1a" stroke-width="0.2">M12</text>
<path d="M407.49 294.7V297.5" stroke="#333" stroke-width="0.8"/>
<text transform="translate(410.49 304) rotate(-45) scale(0.9592 1)" font-size="8.6" text-anchor="end" fill="#1a1a1a" stroke="#1a1a1a" stroke-width="0.2">M18</text>
<path d="M423.04 294.7V297.5" stroke="#333" stroke-width="0.8"/>
<text transform="translate(426.04 304) rotate(-45) scale(0.9592 1)" font-size="8.6" text-anchor="end" fill="#1a1a1a" stroke="#1a1a1a" stroke-width="0.2">M24</text>
<path d="M438.6 294.7V297.5" stroke="#333" stroke-width="0.8"/>
<text transform="translate(441.6 304) rotate(-45) scale(0.9592 1)" font-size="8.6" text-anchor="end" fill="#1a1a1a" stroke="#1a1a1a" stroke-width="0.2">M30</text>
<path d="M454.15 294.7V297.5" stroke="#333" stroke-width="0.8"/>
<text transform="translate(457.15 304) rotate(-45) scale(0.9592 1)" font-size="8.6" text-anchor="end" fill="#1a1a1a" stroke="#1a1a1a" stroke-width="0.2">M36</text>
<text transform="translate(279.7 248.55) rotate(-90) scale(0.745 1)" font-size="9.6" text-anchor="middle" fill="#1a1a1a" stroke="#1a1a1a" stroke-width="0.25" letter-spacing="0.3">Number of patients</text>
<text transform="translate(383.5 347.5) scale(0.7 1)" font-size="10.0" text-anchor="middle" fill="#1a1a1a" stroke="#1a1a1a" stroke-width="0.25" letter-spacing="0.45">Timepoints</text>
<text x="272.43" y="191.7" font-size="11.6" font-weight="bold" fill="#000">D</text>
<rect x="465" y="203.7" width="5.3" height="5.2" fill="#5C2572"/>
<text transform="translate(473.6 208.9) scale(0.885 1)" font-size="8.4" fill="#1a1a1a" stroke="#1a1a1a" stroke-width="0.1">Missed</text>
<rect x="465" y="213.03" width="5.3" height="5.2" fill="#3ABA4A"/>
<text transform="translate(473.6 218.23) scale(0.885 1)" font-size="8.4" fill="#1a1a1a" stroke="#1a1a1a" stroke-width="0.1">Inadequate</text>
<rect x="465" y="222.36" width="5.3" height="5.2" fill="#0F4C86"/>
<text transform="translate(473.6 227.56) scale(0.885 1)" font-size="8.4" fill="#1a1a1a" stroke="#1a1a1a" stroke-width="0.1">MRD NEG</text>
<rect x="465" y="231.69" width="5.3" height="5.2" fill="#8A80C0"/>
<text transform="translate(473.6 236.89) scale(0.885 1)" font-size="8.4" fill="#1a1a1a" stroke="#1a1a1a" stroke-width="0.1">MRD PNQ</text>
<rect x="465" y="241.02" width="5.3" height="5.2" fill="#C8102E"/>
<text transform="translate(473.6 246.22) scale(0.885 1)" font-size="8.4" fill="#1a1a1a" stroke="#1a1a1a" stroke-width="0.1">MRD POS</text>
<rect x="465" y="250.35" width="5.3" height="5.2" fill="#FF9100"/>
<text transform="translate(473.6 255.55) scale(0.885 1)" font-size="8.4" fill="#1a1a1a" stroke="#1a1a1a" stroke-width="0.1">Progression</text>
<rect x="0" y="0" width="520" height="1" fill="#000"/>
<rect x="0" y="0" width="1" height="354" fill="#000"/>
<rect x="518.8" y="0" width="1.2" height="354" fill="#000"/>
<rect x="0" y="352.7" width="520" height="1.3" fill="#000"/>
</svg>
</body></html>
